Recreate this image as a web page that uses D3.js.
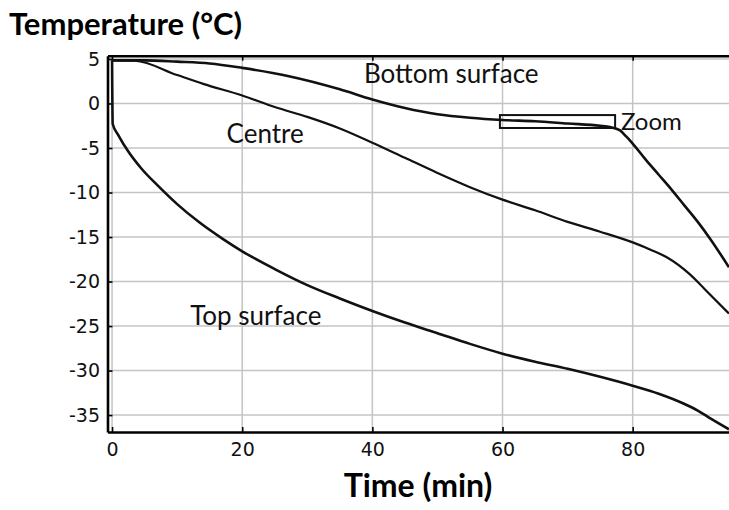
<!DOCTYPE html>
<html>
<head>
<meta charset="utf-8">
<script src="https://cdn.jsdelivr.net/npm/d3@7"></script>
<style>
  html, body { margin: 0; padding: 0; background: #fff; }
  svg { display: block; }
</style>
</head>
<body>
<svg id="chart" width="729" height="510"></svg>
<script>
// ---- data (time in min, temperature in °C) ----
const bottomT = [0, 5, 10, 15, 20, 27, 35, 40, 45, 50, 55, 60, 65, 70, 75, 76.5, 78, 79, 80, 82, 84, 86, 88, 90, 92, 94.8];
const bottomV = [4.85, 4.85, 4.7, 4.5, 4.0, 3.1, 1.6, 0.45, -0.5, -1.2, -1.6, -1.85, -2.0, -2.25, -2.5, -2.65, -3.0, -3.7, -4.5, -6.3, -8.0, -9.7, -11.5, -13.3, -15.3, -18.4];

const centreT = [0, 3.5, 10, 14, 20, 25, 30, 35, 40, 45, 50, 55, 60, 65, 70, 75, 80, 83, 85.3, 88.8, 91, 94.8];
const centreV = [4.85, 4.8, 3.2, 2.2, 0.9, -0.4, -1.5, -2.8, -4.4, -6.1, -7.8, -9.4, -10.8, -12.0, -13.3, -14.4, -15.6, -16.5, -17.3, -19.2, -20.8, -23.6];

const topT = [0, 0.1, 1, 2.5, 4.5, 7, 10, 13.5, 17, 20, 25, 30, 35, 40, 45, 50, 55, 60, 65, 70, 75, 80, 84, 87.8, 90, 92, 94.8];
const topV = [4.85, -2.3, -3.6, -5.4, -7.3, -9.2, -11.3, -13.4, -15.2, -16.6, -18.6, -20.4, -21.9, -23.3, -24.6, -25.8, -27.0, -28.1, -29.0, -29.8, -30.7, -31.7, -32.6, -33.7, -34.5, -35.4, -36.6];

const xTicks = [0, 20, 40, 60, 80];
const yTicks = [5, 0, -5, -10, -15, -20, -25, -30, -35];

// zoom box: [t0, t1, vTop, vBottom]
const zoomBox = [59.6, 77.3, -1.3, -2.75];

const seriesNames = ["Bottom surface", "Centre", "Top surface"];
// label anchor positions in data units
const labelPos = [[38.7, 2.3], [17.6, -4.4], [12, -24.9]];
const zoomLabelPos = [78.2, -2.95];

// ---- layout ----
const svg = d3.select("#chart");
const L = 107.5, R = 729, T = 55.7, B = 432;

const x = d3.scaleLinear().domain([-0.7, 94.8]).range([L, R]);
const y = d3.scaleLinear().domain([5.37, -36.9]).range([T, B]);

// grid
const grid = svg.append("g");
grid.selectAll("line.v").data(xTicks).join("line")
  .attr("x1", d => x(d)).attr("x2", d => x(d))
  .attr("y1", T).attr("y2", B)
  .attr("stroke", "#c4c4c4").attr("stroke-width", 1.5);
grid.selectAll("line.h").data(yTicks).join("line")
  .attr("x1", L).attr("x2", R)
  .attr("y1", d => y(d)).attr("y2", d => y(d))
  .attr("stroke", "#c4c4c4").attr("stroke-width", 1.5);

// axes
const fmt = d => String(d);
const xAxis = d3.axisBottom(x).tickValues(xTicks).tickFormat(fmt).tickSize(-5).tickPadding(11).tickSizeOuter(0);
const yAxis = d3.axisLeft(y).tickValues(yTicks).tickFormat(fmt).tickSize(-5).tickPadding(7.5).tickSizeOuter(0);
const xTop = d3.axisTop(x).tickValues(xTicks).tickSize(-5).tickFormat("").tickSizeOuter(0);

function styleAxis(g) {
  g.select(".domain").attr("stroke", "#000").attr("stroke-width", 2.6);
  g.selectAll(".tick line").attr("stroke", "#000").attr("stroke-width", 1.6);
  g.selectAll(".tick text")
    .attr("fill", "#111")
    .style("font-family", "'DejaVu Sans', sans-serif")
    .style("font-size", "19px");
}

svg.append("g").attr("transform", `translate(0,${B})`).call(xAxis).call(styleAxis);
svg.append("g").attr("transform", `translate(${L},0)`).call(yAxis).call(styleAxis);
svg.append("g").attr("transform", `translate(0,${T})`).call(xTop).call(styleAxis);

// lines
const line = d3.line().x(d => x(d[0])).y(d => y(d[1])).curve(d3.curveMonotoneX);
const series = [
  { t: bottomT, v: bottomV, w: 2.6 },
  { t: centreT, v: centreV, w: 2.2 },
  { t: topT, v: topV, w: 2.6 }
];
svg.append("g").selectAll("path").data(series).join("path")
  .attr("d", s => line(s.t.map((t, i) => [t, s.v[i]])))
  .attr("fill", "none").attr("stroke", "#111")
  .attr("stroke-width", s => s.w)
  .attr("stroke-linejoin", "round");

// zoom box
svg.append("rect")
  .attr("x", x(zoomBox[0])).attr("y", y(zoomBox[2]))
  .attr("width", x(zoomBox[1]) - x(zoomBox[0]))
  .attr("height", y(zoomBox[3]) - y(zoomBox[2]))
  .attr("fill", "none").attr("stroke", "#111").attr("stroke-width", 2);

// labels
const lblFont = "Lato, 'Open Sans', sans-serif";
svg.append("g").selectAll("text").data(seriesNames).join("text")
  .attr("x", (d, i) => x(labelPos[i][0]))
  .attr("y", (d, i) => y(labelPos[i][1]))
  .style("font-family", lblFont).style("font-size", "26px")
  .attr("fill", "#111")
  .text(d => d);

svg.append("text")
  .attr("x", x(zoomLabelPos[0])).attr("y", y(zoomLabelPos[1]))
  .style("font-family", lblFont).style("font-size", "24px")
  .attr("fill", "#111").text("Zoom");

// titles
svg.append("text")
  .attr("x", 9).attr("y", 35)
  .style("font-family", lblFont).style("font-weight", "bold").style("font-size", "31px")
  .attr("fill", "#000").text("Temperature (°C)");

svg.append("text")
  .attr("x", 418).attr("y", 497).attr("text-anchor", "middle")
  .style("font-family", lblFont).style("font-weight", "bold").style("font-size", "32px")
  .attr("fill", "#000").text("Time (min)");
</script>
</body>
</html>
